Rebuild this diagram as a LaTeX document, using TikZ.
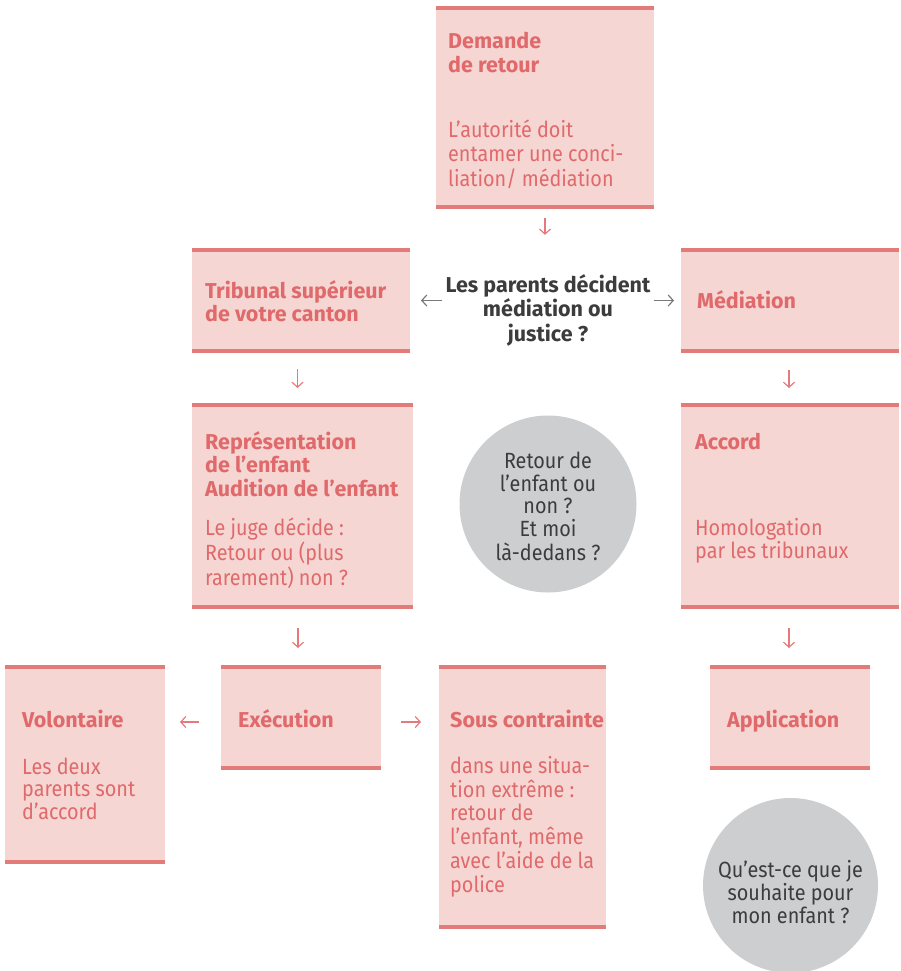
\documentclass[tikz,border=0pt]{standalone}
\usepackage{fontspec}
\setmainfont[FakeStretch=0.9]{Fira Sans}
\newfontfamily\boldfam{Fira Sans}
\usetikzlibrary{arrows.meta}
\definecolor{boxfill}{HTML}{F5D6D2}
\definecolor{barcol}{HTML}{E27B79}
\definecolor{pinktxt}{HTML}{E0696B}
\definecolor{darktxt}{HTML}{3C3C3C}
\definecolor{circfill}{HTML}{CDCED0}
\definecolor{arrpink}{HTML}{E57A7C}
\definecolor{arrgray}{HTML}{7A7A7A}
\newcommand{\tl}[1]{\begin{tabular}[t]{@{}l@{}}#1\end{tabular}}
\newcommand{\tc}[1]{\begin{tabular}[t]{@{}c@{}}#1\end{tabular}}
\begin{document}
\begin{tikzpicture}[x=1pt,y=-1pt,
  box/.style={fill=boxfill, inner sep=0pt, outer sep=0pt, anchor=north west,
    path picture={
      \fill[barcol] (path picture bounding box.north west) rectangle ([yshift=-4pt]path picture bounding box.north east);
      \fill[barcol] (path picture bounding box.south west) rectangle ([yshift=4pt]path picture bounding box.south east);}},
  ttl/.style={font=\boldfam\bfseries\fontsize{21.5}{22.6}\selectfont, text=pinktxt, anchor=base west, inner sep=0pt},
  bdy/.style={font=\fontsize{22}{22.6}\selectfont, text=pinktxt, anchor=base west, inner sep=0pt},
  ctr/.style={font=\boldfam\bfseries\fontsize{21.5}{23}\selectfont, text=darktxt, anchor=base, inner sep=0pt},
  circ/.style={circle, fill=circfill, inner sep=0pt, outer sep=0pt},
  ctxt/.style={font=\fontsize{22}{21.8}\selectfont, text=darktxt, anchor=base, inner sep=0pt},
  parr/.style={draw=arrpink, line width=1.2pt, -{Straight Barb[length=5pt,width=11pt]}},
  garr/.style={parr, draw=arrgray},
]
\useasboundingbox (0,0) rectangle (901,971);

% boxes
\node[box, minimum width=218pt, minimum height=203pt] (dem) at (436,6) {};
\node[box, minimum width=218pt, minimum height=105pt] (trib) at (192,248) {};
\node[box, minimum width=218pt, minimum height=105pt] (med) at (681,248) {};
\node[box, minimum width=221pt, minimum height=206pt] (rep) at (192,403) {};
\node[box, minimum width=218pt, minimum height=206pt] (acc) at (681,403) {};
\node[box, minimum width=160pt, minimum height=199pt] (vol) at (5,665) {};
\node[box, minimum width=160pt, minimum height=105pt] (exe) at (221,665) {};
\node[box, minimum width=167pt, minimum height=264pt] (sous) at (439,665) {};
\node[box, minimum width=160pt, minimum height=105pt] (app) at (710,665) {};

% circles
\node[circ, minimum size=177pt] (c1) at (548,504) {};
\node[circ, minimum size=175pt] (c2) at (790.5,885.5) {};

% texts
\node[ttl] (demT) at (448,49) {\tl{Demande\\de retour}};
\node[bdy] (demB) at (448,138) {\tl{L’autorité doit\\entamer une conci-\\liation/ médiation}};
\node[ctr] (q) at (548,292) {\tc{Les parents décident\\médiation ou\\justice ?}};
\node[ttl] (tribT) at (205,298) {\tl{Tribunal supérieur\\de votre canton}};
\node[ttl] (medT) at (697,308) {Médiation};
\node[ttl] (repT) at (205,449) {\tl{Représentation\\de l’enfant\\Audition de l’enfant}};
\node[bdy] (repB) at (205,535) {\tl{Le juge décide :\\Retour ou (plus\\rarement) non ?}};
\node[ttl] (accT) at (695,449) {Accord};
\node[bdy] (accB) at (695,535) {\tl{Homologation\\par les tribunaux}};
\node[ttl] (volT) at (22,727) {Volontaire};
\node[bdy] (volB) at (22,774) {\tl{Les deux\\parents sont\\d’accord}};
\node[ttl] (exeT) at (238,727) {Exécution};
\node[ttl] (sousT) at (450,727) {Sous contrainte};
\node[bdy] (sousB) at (450,773) {\tl{dans une situa-\\tion extrême :\\retour de\\l’enfant, même\\avec l’aide de la\\police}};
\node[ttl] (appT) at (727,727) {Application};
\node[ctxt] (c1t) at (548,468) {\tc{Retour de\\l’enfant ou\\non ?\\Et moi\\là-dedans ?}};
\node[ctxt] (c2t) at (790.5,877) {\tc{Qu’est-ce que je\\souhaite pour\\mon enfant ?}};

% connectors
\draw[parr, shorten <=9pt, shorten >=39pt] (dem.south) -- (dem.south |- q.north);
\draw[garr, shorten <=3pt, shorten >=11pt] (q.west |- trib.east) -- (trib.east);
\draw[garr, shorten <=3pt, shorten >=7pt] (q.east |- med.west) -- (med.west);
\draw[parr, shorten <=16pt, shorten >=15pt] ([xshift=-3.5pt]trib.south) -- ([xshift=-3.5pt]trib.south |- rep.north);
\draw[parr, shorten <=17pt, shorten >=15pt] ([xshift=-1pt]med.south) -- ([xshift=-1pt]med.south |- acc.north);
\draw[parr, shorten <=19pt, shorten >=17pt] ([xshift=-4.5pt]rep.south) -- ([xshift=-4.5pt]rep.south |- exe.north);
\draw[parr, shorten <=19pt, shorten >=17pt] ([xshift=-1pt]acc.south) -- ([xshift=-1pt]acc.south |- app.north);
\draw[parr, shorten <=22pt, shorten >=15pt] ([yshift=-4.5pt]exe.west) -- ([yshift=-4.5pt]exe.west -| vol.east);
\draw[parr, shorten <=20pt, shorten >=18pt] ([yshift=-4.5pt]exe.east) -- ([yshift=-4.5pt]exe.east -| sous.west);
\end{tikzpicture}
\end{document}
